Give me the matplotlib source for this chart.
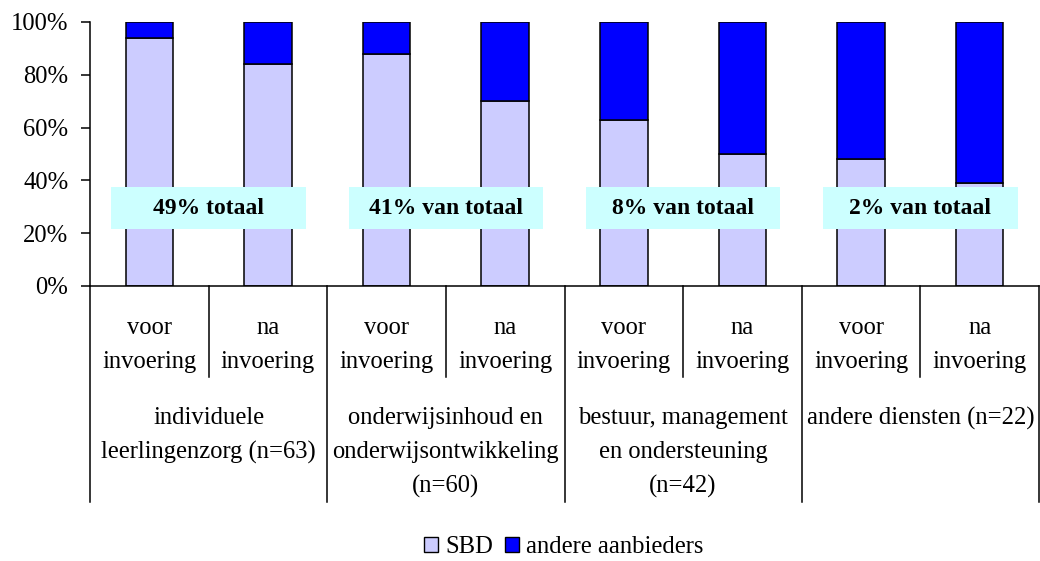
import matplotlib
matplotlib.use('agg')
import matplotlib.pyplot as plt
from matplotlib.transforms import blended_transform_factory
from matplotlib.patches import Rectangle, Patch
import numpy as np

plt.rcParams['font.family'] = ['Liberation Serif', 'DejaVu Serif']

# data (percent SBD, rest = andere aanbieders)
periods = ["voor\ninvoering", "na\ninvoering"]
groups = ["individuele\nleerlingenzorg (n=63)",
          "onderwijsinhoud en\nonderwijsontwikkeling\n(n=60)",
          "bestuur, management\nen ondersteuning\n(n=42)",
          "andere diensten (n=22)"]
share_labels = ["49% totaal", "41% van totaal", "8% van totaal", "2% van totaal"]
sbd = [94, 84, 88, 70, 63, 50, 48, 39]
andere = [100 - v for v in sbd]

W, H = 1040, 561
fig = plt.figure(figsize=(W / 100, H / 100), dpi=100)
ax = fig.add_axes([90 / W, 1 - 286 / H, (1039 - 90) / W, 264 / H])

fs = 17.7
x = np.arange(len(sbd))
ax.bar(x, sbd, width=0.4, color='#CCCCFF', edgecolor='black', linewidth=1.1, label='SBD')
ax.bar(x, andere, bottom=sbd, width=0.4, color='#0000FF', edgecolor='black',
       linewidth=1.1, label='andere aanbieders')

ax.set_xlim(-0.5, 7.5)
ax.set_ylim(0, 100)
ax.set_yticks(range(0, 101, 20))
ax.set_yticklabels([f"{v}%" for v in range(0, 101, 20)], fontsize=fs)
ax.tick_params(axis='y', direction='out', length=6.5, width=1.1, pad=9)
ax.set_xticks([])
for s in ['top', 'right']:
    ax.spines[s].set_visible(False)
for s in ['left', 'bottom']:
    ax.spines[s].set_linewidth(1.1)

# share boxes
for g, lab in enumerate(share_labels):
    cx = 2 * g + 0.5
    ax.add_patch(Rectangle((cx - 0.82, 21.6), 1.64, 15.9, facecolor='#CCFFFF',
                           edgecolor='none', zorder=3))
    ax.text(cx, 29.5, lab, ha='center', va='center', fontsize=17,
            fontweight='bold', zorder=4)

# multi-level category axis
tr = blended_transform_factory(ax.transData, fig.transFigure)
def fy(px):
    return 1 - px / H

for i in range(len(sbd)):
    top, bot = periods[i % 2].split("\n")
    ax.text(i, fy(328), top, transform=tr, ha='center', va='center', fontsize=fs)
    ax.text(i, fy(362), bot, transform=tr, ha='center', va='center', fontsize=fs)
    if i % 2 == 0:
        ax.plot([i + 0.5, i + 0.5], [fy(286), fy(377)], transform=tr,
                color='black', lw=1.1, clip_on=False)

for g, lab in enumerate(groups):
    for k, line in enumerate(lab.split("\n")):
        ax.text(2 * g + 0.5, fy(418 + 34 * k), line, transform=tr,
                ha='center', va='center', fontsize=fs)
for b in [-0.5, 1.5, 3.5, 5.5, 7.5]:
    ax.plot([b, b], [fy(286), fy(502)], transform=tr, color='black', lw=1.1,
            clip_on=False)

handles = [Patch(facecolor='#CCCCFF', edgecolor='black', label='SBD'),
           Patch(facecolor='#0000FF', edgecolor='black', label='andere aanbieders')]
fig.legend(handles=handles, loc='center', bbox_to_anchor=(564 / W, fy(547)),
           ncol=2, frameon=False, fontsize=fs, handlelength=0.55, handleheight=0.55,
           handletextpad=0.3, columnspacing=0.5, borderaxespad=0, borderpad=0.2)

fig.savefig('out.png', dpi=100)
